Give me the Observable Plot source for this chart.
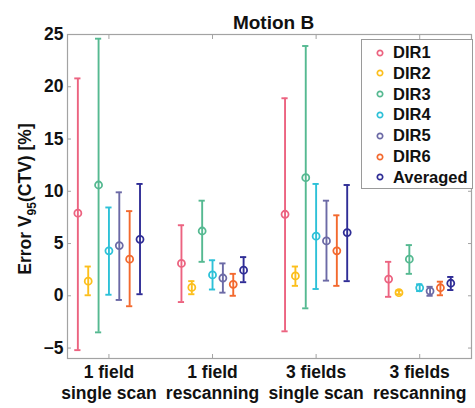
<!DOCTYPE html>
<html><head><meta charset="utf-8">
<script src="https://cdn.jsdelivr.net/npm/d3@7"></script>
<script src="https://cdn.jsdelivr.net/npm/@observablehq/plot@0.6"></script>
<style>
body{margin:0;background:#fff;font-family:"Liberation Sans",Arial,sans-serif;}
#wrap{position:relative;width:475px;height:408px;overflow:hidden;}
#legend{position:absolute;left:361px;top:39px;width:112px;height:150px;box-sizing:border-box;border:1px solid #9a9a9a;background:#fff;}
.row{position:absolute;left:0;height:20px;display:flex;align-items:center;font-weight:bold;font-size:16.5px;color:#111;}
.row svg{margin-left:14px;margin-right:9px;}
</style></head><body><div id="wrap"></div>
<script>
const categories = ["1 field\nsingle scan", "1 field\nrescanning", "3 fields\nsingle scan", "3 fields\nrescanning"];
const series = ["DIR1", "DIR2", "DIR3", "DIR4", "DIR5", "DIR6", "Averaged"];
const colors = ["#ec6380", "#fcbf1c", "#55b991", "#2dc1d8", "#6c6aa6", "#f3692e", "#2f2d96"];
const yTicks = [-5, 0, 5, 10, 15, 20, 25];

const dir1Mean = [7.9, 3.1, 7.8, 1.6],   dir1Lo = [-5.2, -0.6, -3.4, -0.1], dir1Hi = [20.8, 6.75, 18.9, 3.25];
const dir2Mean = [1.4, 0.8, 1.9, 0.3],   dir2Lo = [0.05, 0.15, 0.95, 0.15], dir2Hi = [2.8, 1.4, 2.8, 0.5];
const dir3Mean = [10.6, 6.2, 11.3, 3.5], dir3Lo = [-3.5, 3.25, -1.2, 2.1],  dir3Hi = [24.6, 9.1, 23.9, 4.85];
const dir4Mean = [4.3, 2.0, 5.7, 0.77],  dir4Lo = [0.1, 0.6, 0.65, 0.45],   dir4Hi = [8.45, 3.4, 10.7, 1.1];
const dir5Mean = [4.8, 1.7, 5.25, 0.45], dir5Lo = [-0.4, 0.3, 1.45, 0.0],   dir5Hi = [9.9, 3.1, 9.1, 0.86];
const dir6Mean = [3.5, 1.1, 4.3, 0.77],  dir6Lo = [-1.0, 0.0, 0.95, 0.05],  dir6Hi = [8.1, 2.1, 7.7, 1.35];
const avgMean  = [5.4, 2.45, 6.05, 1.2], avgLo  = [0.15, 1.3, 1.4, 0.55],   avgHi  = [10.7, 3.7, 10.6, 1.8];

const means = [dir1Mean, dir2Mean, dir3Mean, dir4Mean, dir5Mean, dir6Mean, avgMean];
const los = [dir1Lo, dir2Lo, dir3Lo, dir4Lo, dir5Lo, dir6Lo, avgLo];
const his = [dir1Hi, dir2Hi, dir3Hi, dir4Hi, dir5Hi, dir6Hi, avgHi];

const rows = [];
series.forEach((s, j) => {
  categories.forEach((c, i) => {
    rows.push({series: s, x: i + 1 + (j - 3) * 0.1, mean: means[j][i], lo: los[j][i], hi: his[j][i]});
  });
});

const cap = 0.03;
const font = "'Liberation Sans', Arial, sans-serif";
const axisColor = "#a3a3a3";

const plot = Plot.plot({
  width: 475,
  height: 408,
  marginLeft: 67,
  marginRight: 4,
  marginTop: 34,
  marginBottom: 50,
  style: {fontFamily: font, fontWeight: "bold", fontSize: "16px", color: "#111", background: "#fff"},
  x: {domain: [0.6, 4.5], ticks: [1, 2, 3, 4]},
  y: {domain: [-6, 25], ticks: yTicks},
  color: {domain: series, range: colors},
  marks: [
    Plot.frame({stroke: axisColor, strokeWidth: 1.2}),
    Plot.axisY({ticks: yTicks, tickSize: 0, tickPadding: 4, label: null, fontSize: 17.5, fontWeight: "bold"}),
    Plot.axisY({ticks: yTicks, anchor: "left", tickSize: -4, text: null, label: null, stroke: axisColor}),
    Plot.axisY({ticks: yTicks, anchor: "right", tickSize: -4, text: null, label: null, stroke: axisColor}),
    Plot.axisX({ticks: [1, 2, 3, 4], tickFormat: d => categories[d - 1], tickSize: 0, tickPadding: 5, label: null, fontSize: 17.5, fontWeight: "bold", lineHeight: 1.2}),
    Plot.axisX({ticks: [1, 2, 3, 4], anchor: "bottom", tickSize: -4, text: null, label: null, stroke: axisColor}),
    Plot.axisX({ticks: [1, 2, 3, 4], anchor: "top", tickSize: -4, text: null, label: null, stroke: axisColor}),
    Plot.ruleX(rows, {x: "x", y1: "lo", y2: "hi", stroke: "series", strokeWidth: 1.9}),
    Plot.ruleY(rows, {y: "lo", x1: d => d.x - cap, x2: d => d.x + cap, stroke: "series", strokeWidth: 1.9}),
    Plot.ruleY(rows, {y: "hi", x1: d => d.x - cap, x2: d => d.x + cap, stroke: "series", strokeWidth: 1.9}),
    Plot.dot(rows, {x: "x", y: "mean", r: 3.5, stroke: "series", strokeWidth: 1.8, fill: "none"}),
    Plot.text(["Motion B"], {frameAnchor: "top", text: d => d, dy: -19, dx: 4, fontSize: 19, fontWeight: "bold", fill: "#111"})
  ]
});

// y-axis label with subscript
const lab = d3.select(plot).append("text")
  .attr("transform", "translate(25,199) rotate(-90)")
  .attr("text-anchor", "middle")
  .attr("font-size", 17.5)
  .attr("font-weight", "bold")
  .attr("fill", "#111")
  .attr("dy", "0.35em");
lab.append("tspan").text("Error V");
lab.append("tspan").attr("font-size", 12).attr("dy", 4.5).text("95");
lab.append("tspan").attr("dy", -4.5).text("(CTV) [%]");

const wrap = document.getElementById("wrap");
wrap.appendChild(plot);

// legend overlay
const legend = document.createElement("div");
legend.id = "legend";
series.forEach((s, j) => {
  const row = document.createElement("div");
  row.className = "row";
  row.style.top = (2.5 + j * 20.8) + "px";
  row.innerHTML = `<svg width="8" height="8"><circle cx="4" cy="4" r="2.7" fill="none" stroke="${colors[j]}" stroke-width="1.7"/></svg><span>${s}</span>`;
  legend.appendChild(row);
});
wrap.appendChild(legend);
</script>
</body></html>
